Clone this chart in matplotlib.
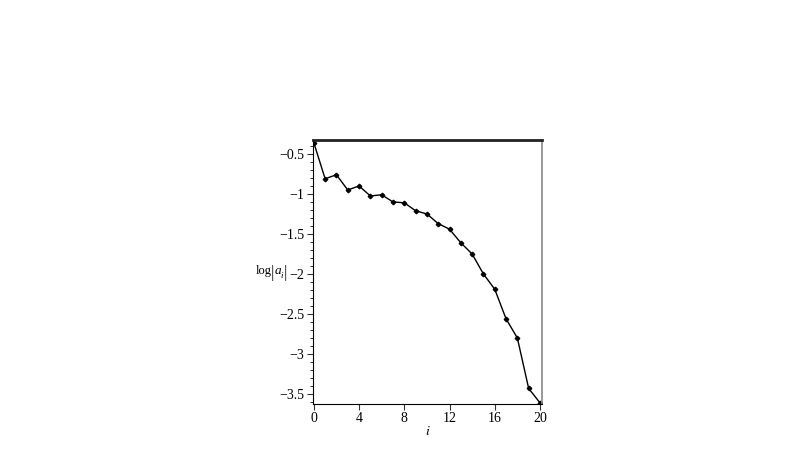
import matplotlib
matplotlib.use("Agg")
import matplotlib.pyplot as plt
from matplotlib.ticker import MultipleLocator

i_vals = list(range(21))
log_a = [-0.36, -0.81, -0.76, -0.95, -0.90, -1.025, -1.01, -1.10, -1.11, -1.21, -1.25,
         -1.37, -1.44, -1.61, -1.75, -2.00, -2.19, -2.56, -2.80, -3.43, -3.61]
x_ticks = [0, 4, 8, 12, 16, 20]
y_ticks = [-0.5, -1, -1.5, -2, -2.5, -3, -3.5]
y_tick_labels = ["\u22120.5", "\u22121", "\u22121.5", "\u22122", "\u22122.5", "\u22123", "\u22123.5"]

plt.rcParams['font.family'] = ['Liberation Serif', 'DejaVu Serif']
plt.rcParams['mathtext.fontset'] = 'stix'
W, H = 800, 450
fig = plt.figure(figsize=(8, 4.5), dpi=100)
ax = fig.add_axes([0.391, 0.1022, 0.2865, 0.5868])
ax.plot(i_vals, log_a, color='black', lw=1.0, marker='D', ms=2.3, mfc='black', mec='black')
ax.set_xlim(-0.09, 20.18)
ax.set_ylim(-3.625, -0.325)
ax.set_xticks(x_ticks)
ax.set_xticklabels([str(t) for t in x_ticks])
ax.set_yticks(y_ticks)
ax.set_yticklabels(y_tick_labels)
ax.yaxis.set_minor_locator(MultipleLocator(0.1))
ax.tick_params(axis='both', labelsize=10, length=4, width=0.8, color='#333333', pad=2)
ax.tick_params(axis='y', which='minor', length=2, width=0.7, color='#333333')
ax.spines['top'].set_linewidth(2.0)
ax.spines['top'].set_color('#222222')
ax.spines['right'].set_linewidth(1.2)
ax.spines['right'].set_color('#888888')
ax.spines['left'].set_linewidth(0.8)
ax.spines['bottom'].set_linewidth(0.8)
ax.set_xlabel('$i$', fontsize=10, labelpad=0)

# y label: log|a_i| with tall bars
def px(x, y):
    return x / W, 1 - y / H
fig.text(*px(256, 274), 'log', fontsize=9, va='baseline', ha='left')
fig.text(*px(272.5, 273), '|', fontsize=12, va='center', ha='center', color='#222222')
fig.text(*px(275, 274), 'a', fontsize=9.5, style='italic', va='baseline', ha='left')
fig.text(*px(280.5, 278), 'i', fontsize=6.5, style='italic', va='baseline', ha='left')
fig.text(*px(285, 273), '|', fontsize=12, va='center', ha='center', color='#222222')
fig.savefig('out.png', dpi=100)
